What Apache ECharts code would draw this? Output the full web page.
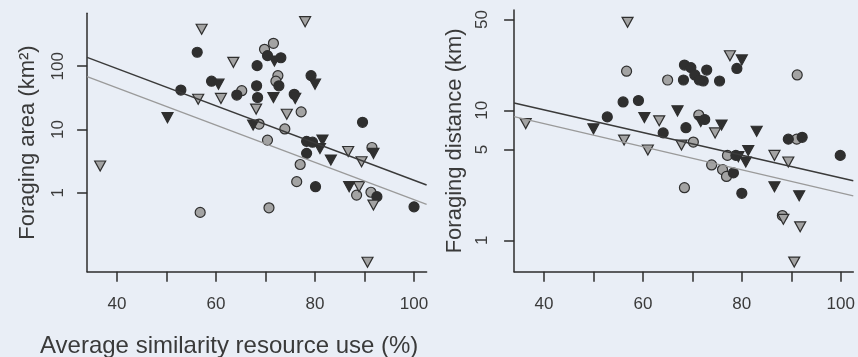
<!DOCTYPE html>
<html><head><meta charset="utf-8">
<script src="https://cdn.jsdelivr.net/npm/echarts@6/dist/echarts.min.js"></script>
<style>html,body{margin:0;padding:0;background:#e9eef6}#c{width:858px;height:357px}</style>
</head><body><div id="c"></div>
<script>
// ---- data ----
const xTicks = [40, 50, 60, 70, 80, 90, 100];
const xTickLabels = [40, 60, 80, 100];
const areaTicks = [1, 10, 100];
const distTicks = [1, 5, 10, 50];
const xRange = [33.96, 102.54];
const areaRange = [0.0567, 685];
const distRange = [0.5734, 59.1];

// Foraging area (km2) vs similarity
const areaDarkCircle = [[56.2,166],[68.3,102],[59.1,58],[52.9,42],[64.2,35],[68.2,49],[68.4,32],[70.4,147],[73.1,136],[72.7,49],[79.2,71],[75.8,36],[78.3,6.5],[79.5,6.3],[78.3,4.2],[80.1,1.25],[89.6,13.0],[92.5,0.87],[100,0.60]];
const areaLightCircle = [[65.2,41],[56.8,0.49],[71.6,230],[69.8,185],[72.5,71],[72.1,58],[77.2,19],[73.9,10.2],[70.4,6.8],[77.0,2.8],[76.3,1.5],[70.7,0.58],[91.5,5.2],[88.4,0.92],[91.3,1.02],[68.7,12.2]];
const areaDarkTri = [[60.5,52],[67.5,11.8],[50.2,15.4],[71.8,121],[80,52],[71.6,32],[76,31],[81.5,6.8],[81,5.0],[83.2,3.3],[91.8,4.2],[86.9,1.25]];
const areaLightTri = [[57.1,383],[63.5,115],[56.4,30],[61.0,31],[68.1,21],[36.6,2.65],[78.0,505],[74.3,17.4],[86.7,4.5],[89.4,3.1],[88.9,1.25],[91.8,0.64],[90.6,0.080]];
const areaFitDark = [[33.96,138],[102.54,1.33]];
const areaFitLight = [[33.96,68.2],[102.54,0.658]];

// Foraging distance (km) vs similarity
const distDarkCircle = [[56.0,11.6],[59.1,11.9],[52.8,8.9],[64.1,6.7],[79.0,21],[68.4,22.3],[69.7,21.3],[70.5,18.7],[72.9,20.4],[68.2,17.1],[72.2,16.8],[71.4,17.1],[75.5,16.8],[68.7,7.35],[72.5,8.5],[89.4,6.0],[92.2,6.2],[99.9,4.5],[78.8,4.5],[78.3,3.3],[80.0,2.3]];
const distLightCircle = [[56.7,20],[65.0,17.1],[91.2,18.7],[71.3,9.2],[91.1,6.0],[70.2,5.7],[77.1,4.5],[73.9,3.8],[76.1,3.5],[76.9,3.1],[68.4,2.54],[88.2,1.55]];
const distDarkTri = [[60.3,8.8],[67.0,9.9],[50.0,7.2],[80.0,24.4],[71.7,8.2],[75.9,7.7],[83.0,6.9],[79.3,4.4],[81.3,4.9],[80.8,4.0],[86.6,2.58],[91.6,2.2]];
const distLightTri = [[56.9,47.5],[63.3,8.3],[36.3,7.9],[56.2,5.9],[61.0,4.95],[77.6,26.3],[67.8,5.4],[74.6,6.7],[86.6,4.5],[89.4,4.0],[88.4,1.45],[91.8,1.27],[90.6,0.68]];
const distFitDark = [[33.96,11.4],[102.54,2.87]];
const distFitLight = [[33.96,8.93],[102.54,2.2]];

const xTitle = 'Average similarity resource use (%)';
const areaTitle = 'Foraging area (km²)';
const distTitle = 'Foraging distance (km)';

// ---- styling ----
const FONT = '"Liberation Sans", Arial, sans-serif';
const TXT = '#3a3a3a';
const AX = '#2c2c2c';
const DARK = '#2f2f2f';
const LIGHT = '#a3a3a3';

function xAxisCfg(g) {
  return {
    type: 'value', gridIndex: g, min: xRange[0], max: xRange[1],
    axisLine: { show: true, onZero: false, lineStyle: { color: AX, width: 1.5 } },
    axisTick: { show: true, length: 10, customValues: xTicks, lineStyle: { color: AX, width: 1.5 } },
    axisLabel: { customValues: xTickLabels, fontSize: 17, color: TXT, margin: 24, fontFamily: FONT },
    splitLine: { show: false }
  };
}
function yAxisCfg(g, range, ticks, name, gap, lblMargin) {
  return {
    type: 'log', logBase: 10, gridIndex: g, min: range[0], max: range[1],
    name: name, nameLocation: 'middle', nameGap: gap,
    nameTextStyle: { fontSize: 22, color: TXT, fontFamily: FONT },
    axisLine: { show: true, onZero: false, lineStyle: { color: AX, width: 1.5 } },
    axisTick: { show: true, length: 10, customValues: ticks, lineStyle: { color: AX, width: 1.5 } },
    axisLabel: { customValues: ticks, rotate: 90, fontSize: 17, color: TXT, margin: lblMargin, fontFamily: FONT },
    splitLine: { show: false }
  };
}
function pts(data, g, shape, fill) {
  const tri = shape === 'triangle';
  return {
    type: 'scatter', xAxisIndex: g, yAxisIndex: g, data: data,
    symbol: shape, symbolSize: tri ? [11, 10] : 10, symbolRotate: tri ? 180 : 0,
    itemStyle: { color: fill, borderColor: DARK, borderWidth: 1.2, opacity: 1 },
    z: 3, silent: true
  };
}
function fit(data, g, color, w) {
  return {
    type: 'line', xAxisIndex: g, yAxisIndex: g, data: data, symbol: 'none',
    lineStyle: { color: color, width: w }, z: 4, silent: true
  };
}

const chart = echarts.init(document.getElementById('c'), null, { renderer: 'canvas' });
chart.setOption({
  backgroundColor: '#e9eef6',
  animation: false,
  title: {
    text: xTitle, left: 35, top: 329,
    textStyle: { fontSize: 24, fontWeight: 'normal', color: TXT, fontFamily: FONT }
  },
  grid: [
    { left: 87.1, top: 13.3, width: 339.5, height: 258.4, containLabel: false, outerBoundsMode: 'none' },
    { left: 514.1, top: 10, width: 339.2, height: 261.7, containLabel: false, outerBoundsMode: 'none' }
  ],
  xAxis: [xAxisCfg(0), xAxisCfg(1)],
  yAxis: [
    yAxisCfg(0, areaRange, areaTicks, areaTitle, 48, 20),
    yAxisCfg(1, distRange, distTicks, distTitle, 48, 23)
  ],
  series: [
    fit(areaFitLight, 0, '#9a9a9a', 1.3),
    fit(areaFitDark, 0, '#3a3a3a', 1.5),
    pts(areaLightCircle, 0, 'circle', LIGHT),
    pts(areaDarkCircle, 0, 'circle', DARK),
    pts(areaLightTri, 0, 'triangle', LIGHT),
    pts(areaDarkTri, 0, 'triangle', DARK),
    fit(distFitLight, 1, '#9a9a9a', 1.3),
    fit(distFitDark, 1, '#3a3a3a', 1.5),
    pts(distLightCircle, 1, 'circle', LIGHT),
    pts(distDarkCircle, 1, 'circle', DARK),
    pts(distLightTri, 1, 'triangle', LIGHT),
    pts(distDarkTri, 1, 'triangle', DARK)
  ]
});
</script>
</body></html>
